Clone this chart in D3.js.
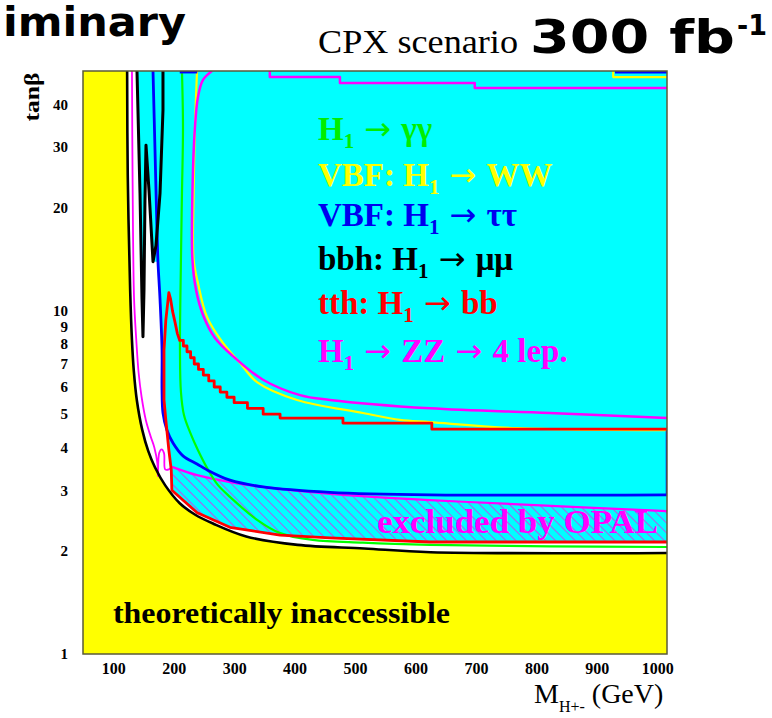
<!DOCTYPE html>
<html><head><meta charset="utf-8">
<script src="https://cdn.jsdelivr.net/npm/d3@7"></script>
<style>html,body{margin:0;padding:0;background:#fff;} svg{display:block}</style>
</head><body>
<svg id="c" width="772" height="718"></svg>
<script>
// ---------- data (M_H+ in GeV, tan beta) ----------
const xTickValues = [100,200,300,400,500,600,700,800,900,1000];
const yTickValues = [1,2,3,4,5,6,7,8,9,10,20,30,40];

// theoretical boundary (yellow region edge)
const theoryM = [123,124,128,131,134,139,148,158,169,186,210,235,265,320,405,515,625,1016];
const theoryT = [50,25,11.5,8.2,6.7,5.5,4.5,3.9,3.5,3.1,2.75,2.55,2.4,2.2,2.08,2.03,1.98,1.97];

// right edge of the uncovered (white) band
const whiteEdgeM = [139,144,147.6,149.2,151,152.5,154.2,159.2,165.8,174,177.4,180.7,182.3,187.3,192.2,195.6,197.2,238.6,293,376,458,624,1016];
const whiteEdgeT = [50,22,10.8,8.4,11.5,21,30.4,22.4,13.9,13.9,10.8,7.7,5.9,4.81,3.93,3.44,3.0,2.58,2.34,2.22,2.18,2.12,2.12];

// bbh: H1 -> mu mu (black)
const bbhM = [139.3,144.3,147.6,149.2,150.9,152.5,154.2,159.2,165.8,170.7,177.4,182.3,182.3];
const bbhT = [50,22,10.8,8.4,11.5,21,30.4,22.4,13.9,15.5,22,38.5,50];

// VBF: H1 -> tau tau (blue)
const tauM = [165.8,169.1,172.4,174,177.4,180.7,180.7,182.3,188.9,198.9,215.4,238.6,255.1,293.1,347.7,458.5,624,1016];
const tauT = [50,29.4,17.2,13.9,10.8,7.7,5.88,5.04,4.49,4.12,3.78,3.58,3.44,3.21,3.07,2.96,2.91,2.91];
const tauEdgeM = [1016,1016];
const tauEdgeT = [2.91,4.49];
const tauTopM = [930,1016];
const tauTopT = [49.6,49.6];
const tauTop2M = [210,239];
const tauTop2T = [49.6,49.6];

// tth: H1 -> bb (red)
const tthM = [1016,624,458,376,293,239,197,196,192,187,184,184,187,192,195,198,202,206,210,216,216,222,222,228,228,234,234,241,241,249,249,258,258,267,267,277,277,288,288,300,300,322,322,348,348,376,376,480,480,627,627,1016];
const tthT = [2.12,2.12,2.18,2.22,2.34,2.58,3.0,3.44,3.93,4.81,5.5,7.7,9.4,11.3,10.8,10.0,9.3,8.6,8.2,8.2,7.9,7.9,7.6,7.6,7.3,7.3,7.0,7.0,6.75,6.75,6.5,6.5,6.25,6.25,6.0,6.0,5.8,5.8,5.6,5.6,5.4,5.4,5.2,5.2,5.0,5.0,4.87,4.87,4.71,4.71,4.52,4.52];

// H1 -> gamma gamma (green)
const ggM = [213.7,215.4,213.7,212,210.4,212,217,227,240,257,273,293,338,376,430,513,624,822,1016];
const ggT = [50,34.3,22,14.1,7.7,5.8,4.97,4.43,3.93,3.44,3.11,2.87,2.46,2.25,2.15,2.11,2.08,2.06,2.05];

// VBF: H1 -> WW (yellow)
const wwM = [238.6,235.2,233,233,240.2,255.1,281.6,309.7,337.8,404,513,574,624,768,1016];
const wwT = [50,34.3,22,14.1,12.05,9.6,8.06,7.05,6.2,5.5,5.04,4.81,4.74,4.55,4.49];
const wwTopM = [927,927,1016];
const wwTopT = [50,48,48];

// H1 -> ZZ -> 4 lep (magenta)
const zzM = [263.4,248.5,240.2,235.2,231,231,237,248.5,268.3,301.4,347.7,409,458.5,624,822,1016];
const zzT = [50,47.1,42,34.3,22,14.1,11.5,9.72,8.33,7.29,6.3,5.68,5.5,5.2,5.04,4.87];
const zzTopM = [359,359,475,475,698,698,1016];
const zzTopT = [50,48,48,46.1,46.1,44.6,44.6];
const zzHugM = [131,132,134.5,138,142,147,154,162,168,173,174,176,180,184,186,192,197];
const zzHugT = [50,24.5,10.8,8.3,6.6,5.6,4.8,4.3,4.0,3.6,3.3,3.85,3.95,3.85,3.45,3.45,3.51];

// LEP (OPAL) excluded band, upper edge
const opalTopM = [197.2,238.6,293.1,347.7,458.5,624,789,1016];
const opalTopT = [3.51,3.32,3.17,3.07,2.93,2.81,2.72,2.61];

const legendItems = [
  {pre:"", post:["\u03b3\u03b3"], color:"#00ee00"},
  {pre:"VBF: ", post:["WW"], color:"#ffff00"},
  {pre:"VBF: ", post:["\u03c4\u03c4"], color:"#0000ee"},
  {pre:"bbh: ", post:["\u03bc\u03bc"], color:"#000000"},
  {pre:"tth: ", post:["bb"], color:"#ff0000"},
  {pre:"", post:["ZZ","4 lep."], color:"#ff00ff"}
];
const legendBaselines = [140,186,226,270,314,362];

// ---------- drawing ----------
const svg = d3.select("#c");
const x = d3.scaleLinear().domain([50,1016]).range([83,667]);
const y = d3.scaleLog().domain([1,50]).range([654,71]);
const pts = (m,t) => d3.zip(m,t);
const smooth = d3.line().x(d=>x(d[0])).y(d=>y(d[1])).curve(d3.curveCatmullRom.alpha(0.5));
const lin = d3.line().x(d=>x(d[0])).y(d=>y(d[1]));

const defs = svg.append("defs");
defs.append("clipPath").attr("id","clip").append("rect")
  .attr("x",x.range()[0]).attr("y",y.range()[1])
  .attr("width",x.range()[1]-x.range()[0]).attr("height",y.range()[0]-y.range()[1]);
const pat = defs.append("pattern").attr("id","hatch").attr("patternUnits","userSpaceOnUse")
  .attr("width",7).attr("height",7).attr("patternTransform","rotate(45)");
pat.append("line").attr("x1",0).attr("y1",3.5).attr("x2",7).attr("y2",3.5)
  .attr("stroke","#a760f0").attr("stroke-width",1.1);

const g = svg.append("g").attr("clip-path","url(#clip)");

// cyan covered region
g.append("rect").attr("x",x.range()[0]).attr("y",y.range()[1])
  .attr("width",x.range()[1]-x.range()[0]).attr("height",y.range()[0]-y.range()[1])
  .attr("fill","#00ffff");

// white uncovered band
const theoryPts = pts(theoryM,theoryT);
const whitePath = lin(pts(whiteEdgeM,whiteEdgeT)) + "L" + smooth(theoryPts.slice().reverse()).slice(1) + "Z";
g.append("path").attr("d",whitePath).attr("fill","#ffffff");

// yellow theoretically inaccessible region
const yellowPath = smooth(theoryPts) + "L" + x(1016) + "," + y(1) + "L" + x(50) + "," + y(1) + "L" + x(50) + "," + y(50) + "Z";
g.append("path").attr("d",yellowPath).attr("fill","#ffff00");

// OPAL hatched band
const opalBottom = pts(tthM.slice(0,7), tthT.slice(0,7));
const opalPath = smooth(pts(opalTopM,opalTopT)) + "L" + lin(opalBottom).slice(1) + "Z";
g.append("path").attr("d",opalPath).attr("fill","url(#hatch)");

function curve(m,t,color,w,gen){
  g.append("path").attr("d",(gen||smooth)(pts(m,t))).attr("fill","none")
   .attr("stroke",color).attr("stroke-width",w).attr("stroke-linejoin","round");
}
curve(opalTopM,opalTopT,"#ff00ff",2.2);
curve(ggM,ggT,"#00ff00",2.2);
curve(wwM,wwT,"#ffff00",2.2);
curve(wwTopM,wwTopT,"#ffff00",2.2,lin);
curve(zzM,zzT,"#ff00ff",2.5);
curve(zzTopM,zzTopT,"#ff00ff",2.5,lin);
curve(zzHugM,zzHugT,"#ff00ff",1.8);
curve(tauM,tauT,"#0000ff",2.8);
curve(tauEdgeM,tauEdgeT,"#0000ff",2.5,lin);
curve(tauTopM,tauTopT,"#0000ff",2.5,lin);
curve(tauTop2M,tauTop2T,"#0000ff",2.5,lin);
curve(tthM,tthT,"#ff0000",2.8,lin);
curve(bbhM,bbhT,"#000000",3,lin);
curve(theoryM,theoryT,"#000000",2.6);

// texts inside plot
const serif = "'Liberation Serif','Times New Roman','DejaVu Serif',serif";
const arrowFont = "'DejaVu Sans',sans-serif";
legendItems.forEach((it,i)=>{
  const t = svg.append("text").attr("x",318).attr("y",legendBaselines[i])
    .attr("font-family",serif).attr("font-weight","bold").attr("font-size",33).attr("fill",it.color);
  t.append("tspan").text(it.pre + "H");
  t.append("tspan").attr("font-size",21).attr("dy",8).text("1");
  let first = true;
  it.post.forEach(p=>{
    const a = t.append("tspan").attr("font-family",arrowFont).attr("font-weight","normal")
      .attr("font-size",32).text("\u00a0\u2192\u00a0");
    if (first) { a.attr("dy",-8); first = false; }
    t.append("tspan").text(p);
  });
});

svg.append("text").attr("x",377).attr("y",533).attr("font-family",serif).attr("font-weight","bold")
  .attr("font-size",33).attr("fill","#ff00ff").attr("textLength",281).attr("lengthAdjust","spacingAndGlyphs")
  .text("excluded by OPAL");
svg.append("text").attr("x",113).attr("y",623).attr("font-family",serif).attr("font-weight","bold")
  .attr("font-size",30).attr("fill","#000").attr("textLength",337).attr("lengthAdjust","spacingAndGlyphs")
  .text("theoretically inaccessible");

// frame
svg.append("rect").attr("x",x.range()[0]).attr("y",y.range()[1])
  .attr("width",x.range()[1]-x.range()[0]).attr("height",y.range()[0]-y.range()[1])
  .attr("fill","none").attr("stroke","#5a5a3a").attr("stroke-width",1.5);

// axes
const xAxis = svg.append("g").attr("transform",`translate(0,${y.range()[0]})`)
  .call(d3.axisBottom(x).tickValues(xTickValues).tickSize(0).tickPadding(9).tickFormat(d3.format("d")));
const yAxis = svg.append("g").attr("transform",`translate(${x.range()[0]},0)`)
  .call(d3.axisLeft(y).tickValues(yTickValues).tickSize(0).tickPadding(15).tickFormat(d3.format("d")));
[xAxis,yAxis].forEach(a=>{
  a.select(".domain").remove();
  a.selectAll("text").attr("font-family",serif).attr("font-weight","bold").attr("fill","#000");
});
xAxis.selectAll("text").attr("font-size",16);
yAxis.selectAll("text").attr("font-size",15);

// axis titles
svg.append("text").attr("transform","translate(39,97) rotate(-90)").attr("text-anchor","middle")
  .attr("font-family",serif).attr("font-weight","bold").attr("font-size",22)
  .attr("textLength",49).attr("lengthAdjust","spacingAndGlyphs").text("tan\u03b2");
const xt = svg.append("text").attr("x",534).attr("y",703).attr("font-family",serif).attr("font-size",28).attr("fill","#000");
xt.append("tspan").text("M");
xt.append("tspan").attr("font-size",16).attr("dy",9).text("H+-");
xt.append("tspan").attr("dy",-9).text(" (GeV)");

// header
const sans = "'DejaVu Sans','Verdana',sans-serif";
svg.append("text").attr("x",3).attr("y",36).attr("font-family",sans).attr("font-weight","bold")
  .attr("font-size",40).attr("textLength",183).attr("lengthAdjust","spacingAndGlyphs").text("iminary");
svg.append("text").attr("x",318).attr("y",53).attr("font-family",serif).attr("font-size",33)
  .attr("textLength",200).attr("lengthAdjust","spacingAndGlyphs").text("CPX scenario");
svg.append("text").attr("x",530).attr("y",53).attr("font-family",sans).attr("font-weight","bold")
  .attr("font-size",46).attr("textLength",205).attr("lengthAdjust","spacingAndGlyphs").text("300 fb");
svg.append("text").attr("x",737).attr("y",35).attr("font-family",sans).attr("font-weight","bold")
  .attr("font-size",28).attr("textLength",30).attr("lengthAdjust","spacingAndGlyphs").text("-1");
</script>
</body></html>
